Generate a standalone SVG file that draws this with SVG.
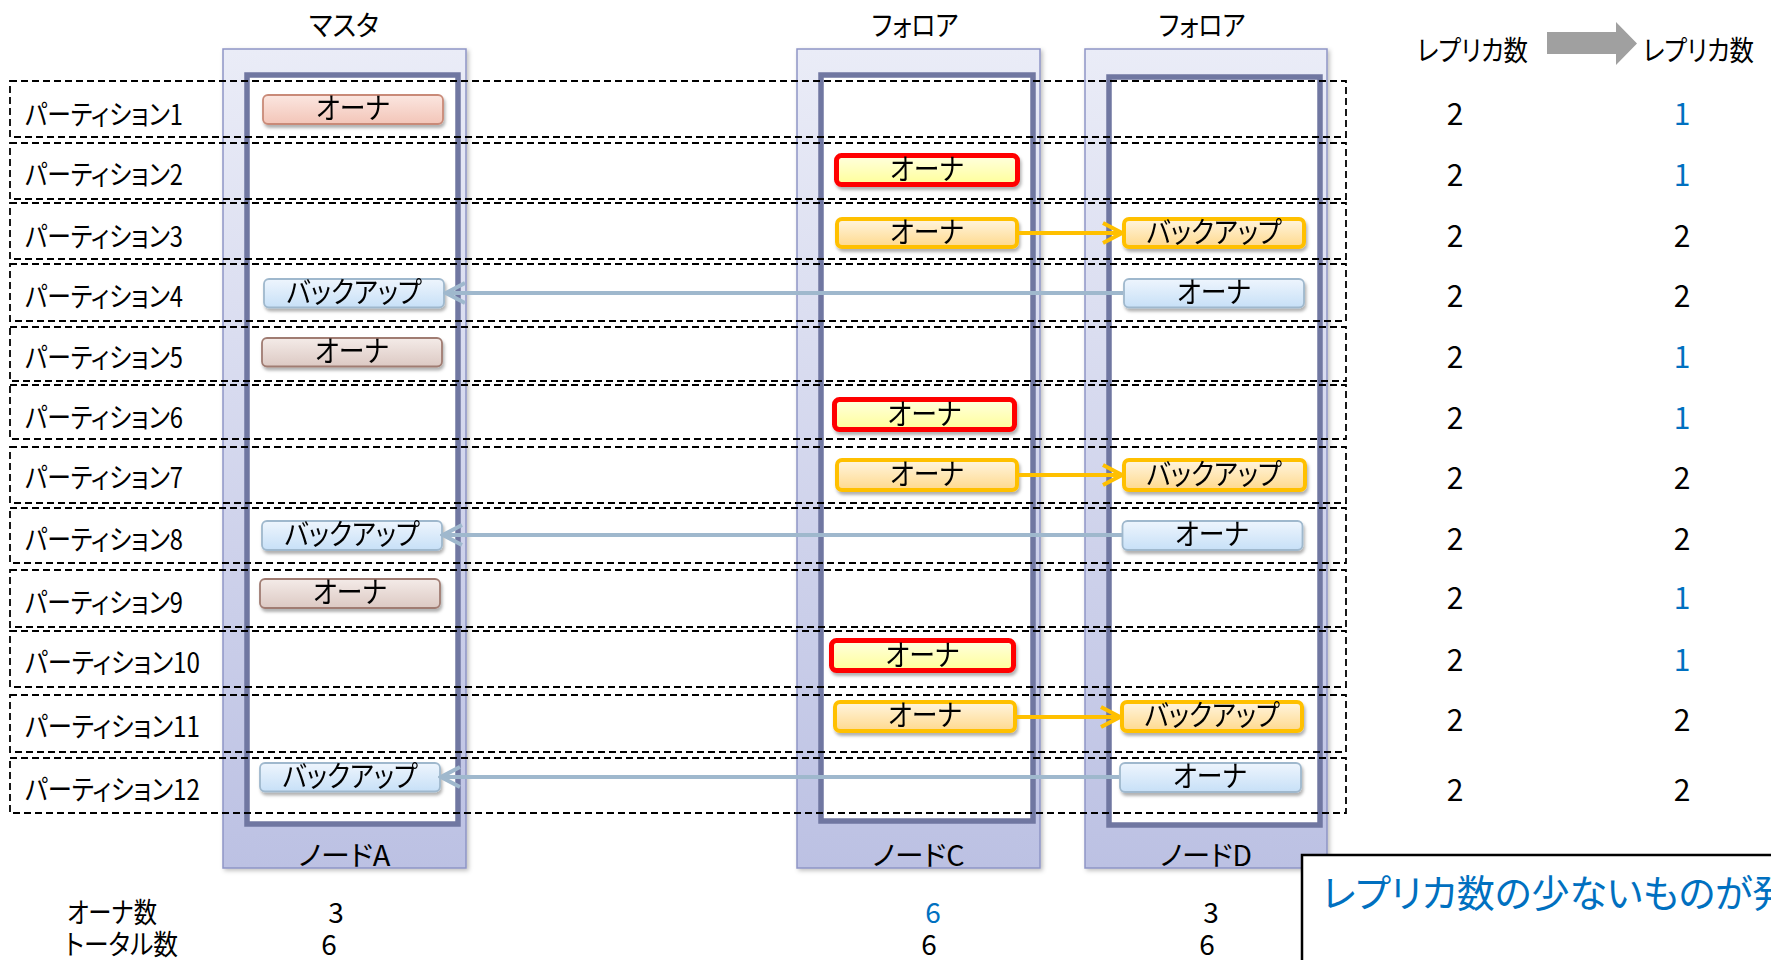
<svg xmlns="http://www.w3.org/2000/svg" width="1771" height="960" viewBox="0 0 1771 960">
<defs>
<linearGradient id="gNode" x1="0" y1="0" x2="0" y2="1"><stop offset="0" stop-color="#eaecf7"/><stop offset="1" stop-color="#bcc1e3"/></linearGradient>
<linearGradient id="gSalmon" x1="0" y1="0" x2="0" y2="1"><stop offset="0" stop-color="#fbe6e0"/><stop offset="1" stop-color="#f3c5b8"/></linearGradient>
<linearGradient id="gBrown" x1="0" y1="0" x2="0" y2="1"><stop offset="0" stop-color="#f4ebe8"/><stop offset="1" stop-color="#dcc9c3"/></linearGradient>
<linearGradient id="gRed" x1="0" y1="0" x2="0" y2="1"><stop offset="0" stop-color="#ffffe0"/><stop offset="1" stop-color="#ffff99"/></linearGradient>
<linearGradient id="gOrange" x1="0" y1="0" x2="0" y2="1"><stop offset="0" stop-color="#fff5e0"/><stop offset="1" stop-color="#ffd98c"/></linearGradient>
<linearGradient id="gBlue" x1="0" y1="0" x2="0" y2="1"><stop offset="0" stop-color="#eef5fd"/><stop offset="1" stop-color="#c7e0f7"/></linearGradient>
<filter id="sh" x="-10%" y="-20%" width="130%" height="160%"><feDropShadow dx="1.5" dy="3" stdDeviation="1.8" flood-color="#000" flood-opacity="0.3"/></filter>
<filter id="shN" x="-5%" y="-5%" width="110%" height="110%"><feDropShadow dx="2" dy="2" stdDeviation="2" flood-color="#000" flood-opacity="0.25"/></filter>
<marker id="arO" markerUnits="userSpaceOnUse" markerWidth="24" markerHeight="24" refX="21" refY="12" orient="auto"><path d="M2,2 L21,12 L2,22" fill="none" stroke="#ffc000" stroke-width="4" stroke-linejoin="miter"/></marker>
<marker id="arB" markerUnits="userSpaceOnUse" markerWidth="24" markerHeight="24" refX="21" refY="12" orient="auto"><path d="M2,2 L21,12 L2,22" fill="none" stroke="#9fb8cd" stroke-width="4"/></marker>
</defs>
<style>
text{font-family:"Noto Sans CJK JP","Noto Sans",sans-serif;font-feature-settings:"palt" 1;fill:#000}
.lbl{font-size:28px}
.hdr{font-size:28px;text-anchor:middle}
.num{font-size:30px;text-anchor:middle}
.blue{fill:#0070c0}
.bt{font-size:29px;text-anchor:middle}
.outer{fill:url(#gNode);stroke:#8e95c6;stroke-width:1.5}
.inner{fill:#fff;stroke:#7077a1;stroke-width:5.5}
.row{fill:none;stroke:#000;stroke-width:1.8;stroke-dasharray:7 4}
.salmon{fill:url(#gSalmon);stroke:#c98a78;stroke-width:1.8}
.brown{fill:url(#gBrown);stroke:#a07c72;stroke-width:1.8}
.red{fill:url(#gRed);stroke:#ff0000;stroke-width:5}
.orange{fill:url(#gOrange);stroke:#ffc000;stroke-width:4}
.blueb{fill:url(#gBlue);stroke:#9fb8cd;stroke-width:1.8}
.cO{stroke:#ffc000;stroke-width:4;fill:none}
.cB{stroke:#9fb8cd;stroke-width:4;fill:none}
</style>

<!-- headers -->
<g id="headers">
<text class="hdr" x="344" y="36" textLength="70" lengthAdjust="spacingAndGlyphs">マスタ</text>
<text class="hdr" x="915" y="36" textLength="87" lengthAdjust="spacingAndGlyphs">フォロア</text>
<text class="hdr" x="1202" y="36" textLength="87" lengthAdjust="spacingAndGlyphs">フォロア</text>
<text class="lbl" x="1417" y="61" textLength="111" lengthAdjust="spacingAndGlyphs">レプリカ数</text>
<text class="lbl" x="1643" y="61" textLength="111" lengthAdjust="spacingAndGlyphs">レプリカ数</text>
<polygon points="1547,32 1616,32 1616,22 1637,43.5 1616,65 1616,54 1547,54" fill="#a0a0a0"/>
</g>

<!-- nodes -->
<g id="nodeA">
<rect class="outer" x="223" y="49" width="243" height="819" filter="url(#shN)"/>
<rect class="inner" x="247" y="75" width="211" height="749"/>
<text class="hdr" x="344.5" y="866" textLength="92" lengthAdjust="spacingAndGlyphs">ノードA</text>
</g>
<g id="nodeC">
<rect class="outer" x="797" y="49" width="243" height="819" filter="url(#shN)"/>
<rect class="inner" x="821" y="75" width="212" height="746"/>
<text class="hdr" x="918.5" y="866" textLength="92" lengthAdjust="spacingAndGlyphs">ノードC</text>
</g>
<g id="nodeD">
<rect class="outer" x="1085" y="49" width="242" height="819" filter="url(#shN)"/>
<rect class="inner" x="1109" y="77" width="211" height="748"/>
<text class="hdr" x="1206" y="866" textLength="92" lengthAdjust="spacingAndGlyphs">ノードD</text>
</g>

<!-- partitions -->
<g id="partitions">
<g id="p1"><rect class="row" x="10" y="81" width="1336" height="56"/><text class="lbl" x="25" y="125" textLength="158" lengthAdjust="spacingAndGlyphs">パーティション1</text></g>
<g id="p2"><rect class="row" x="10" y="143" width="1336" height="56"/><text class="lbl" x="25" y="185" textLength="158" lengthAdjust="spacingAndGlyphs">パーティション2</text></g>
<g id="p3"><rect class="row" x="10" y="203" width="1336" height="56"/><text class="lbl" x="25" y="247" textLength="158" lengthAdjust="spacingAndGlyphs">パーティション3</text></g>
<g id="p4"><rect class="row" x="10" y="264" width="1336" height="57"/><text class="lbl" x="25" y="307" textLength="158" lengthAdjust="spacingAndGlyphs">パーティション4</text></g>
<g id="p5"><rect class="row" x="10" y="327" width="1336" height="54"/><text class="lbl" x="25" y="368" textLength="158" lengthAdjust="spacingAndGlyphs">パーティション5</text></g>
<g id="p6"><rect class="row" x="10" y="385" width="1336" height="54"/><text class="lbl" x="25" y="428" textLength="158" lengthAdjust="spacingAndGlyphs">パーティション6</text></g>
<g id="p7"><rect class="row" x="10" y="447" width="1336" height="56"/><text class="lbl" x="25" y="488" textLength="158" lengthAdjust="spacingAndGlyphs">パーティション7</text></g>
<g id="p8"><rect class="row" x="10" y="508" width="1336" height="55"/><text class="lbl" x="25" y="550" textLength="158" lengthAdjust="spacingAndGlyphs">パーティション8</text></g>
<g id="p9"><rect class="row" x="10" y="570" width="1336" height="57"/><text class="lbl" x="25" y="613" textLength="158" lengthAdjust="spacingAndGlyphs">パーティション9</text></g>
<g id="p10"><rect class="row" x="10" y="631" width="1336" height="56"/><text class="lbl" x="25" y="673" textLength="175" lengthAdjust="spacingAndGlyphs">パーティション10</text></g>
<g id="p11"><rect class="row" x="10" y="695" width="1336" height="57"/><text class="lbl" x="25" y="737" textLength="175" lengthAdjust="spacingAndGlyphs">パーティション11</text></g>
<g id="p12"><rect class="row" x="10" y="758" width="1336" height="55"/><text class="lbl" x="25" y="800" textLength="175" lengthAdjust="spacingAndGlyphs">パーティション12</text></g>
</g>

<!-- replica boxes -->
<g id="boxes">
<g id="b1A" filter="url(#sh)"><rect class="salmon" x="263" y="95" width="180" height="29" rx="5"/><text class="bt" x="353" y="119" textLength="74" lengthAdjust="spacingAndGlyphs">オーナ</text></g>
<g id="b2C" filter="url(#sh)"><rect class="red" x="836.5" y="155.5" width="181" height="29" rx="5"/><text class="bt" x="927" y="180" textLength="74" lengthAdjust="spacingAndGlyphs">オーナ</text></g>
<g id="b3C" filter="url(#sh)"><rect class="orange" x="837" y="219" width="180" height="28" rx="5"/><text class="bt" x="927" y="243" textLength="74" lengthAdjust="spacingAndGlyphs">オーナ</text></g>
<g id="b3D" filter="url(#sh)"><rect class="orange" x="1124" y="219" width="180" height="28" rx="5"/><text class="bt" x="1214" y="243" textLength="135" lengthAdjust="spacingAndGlyphs">バックアップ</text></g>
<g id="b4A" filter="url(#sh)"><rect class="blueb" x="264" y="279" width="180" height="28.5" rx="5"/><text class="bt" x="354" y="303" textLength="135" lengthAdjust="spacingAndGlyphs">バックアップ</text></g>
<g id="b4D" filter="url(#sh)"><rect class="blueb" x="1124" y="279" width="180" height="28.5" rx="5"/><text class="bt" x="1214" y="303" textLength="74" lengthAdjust="spacingAndGlyphs">オーナ</text></g>
<g id="b5A" filter="url(#sh)"><rect class="brown" x="262" y="338" width="180" height="28.5" rx="5"/><text class="bt" x="352" y="362" textLength="74" lengthAdjust="spacingAndGlyphs">オーナ</text></g>
<g id="b6C" filter="url(#sh)"><rect class="red" x="834.5" y="399.5" width="180" height="30" rx="5"/><text class="bt" x="924.5" y="425" textLength="74" lengthAdjust="spacingAndGlyphs">オーナ</text></g>
<g id="b7C" filter="url(#sh)"><rect class="orange" x="837" y="460" width="180" height="30" rx="5"/><text class="bt" x="927" y="485" textLength="74" lengthAdjust="spacingAndGlyphs">オーナ</text></g>
<g id="b7D" filter="url(#sh)"><rect class="orange" x="1124" y="460" width="181" height="30" rx="5"/><text class="bt" x="1214" y="485" textLength="135" lengthAdjust="spacingAndGlyphs">バックアップ</text></g>
<g id="b8A" filter="url(#sh)"><rect class="blueb" x="262" y="521" width="180" height="29" rx="5"/><text class="bt" x="352" y="545" textLength="135" lengthAdjust="spacingAndGlyphs">バックアップ</text></g>
<g id="b8D" filter="url(#sh)"><rect class="blueb" x="1122.5" y="521" width="180" height="29" rx="5"/><text class="bt" x="1212" y="545" textLength="74" lengthAdjust="spacingAndGlyphs">オーナ</text></g>
<g id="b9A" filter="url(#sh)"><rect class="brown" x="260" y="579" width="180" height="29" rx="5"/><text class="bt" x="350" y="603" textLength="74" lengthAdjust="spacingAndGlyphs">オーナ</text></g>
<g id="b10C" filter="url(#sh)"><rect class="red" x="831.5" y="640.5" width="182" height="30" rx="5"/><text class="bt" x="922.5" y="666" textLength="74" lengthAdjust="spacingAndGlyphs">オーナ</text></g>
<g id="b11C" filter="url(#sh)"><rect class="orange" x="835" y="702" width="180" height="29" rx="5"/><text class="bt" x="925" y="726" textLength="74" lengthAdjust="spacingAndGlyphs">オーナ</text></g>
<g id="b11D" filter="url(#sh)"><rect class="orange" x="1122" y="702" width="180" height="29" rx="5"/><text class="bt" x="1212" y="726" textLength="135" lengthAdjust="spacingAndGlyphs">バックアップ</text></g>
<g id="b12A" filter="url(#sh)"><rect class="blueb" x="260" y="763" width="180" height="28.5" rx="5"/><text class="bt" x="350" y="787" textLength="135" lengthAdjust="spacingAndGlyphs">バックアップ</text></g>
<g id="b12D" filter="url(#sh)"><rect class="blueb" x="1120" y="763" width="181" height="29" rx="5"/><text class="bt" x="1210" y="787" textLength="74" lengthAdjust="spacingAndGlyphs">オーナ</text></g>
</g>

<!-- connectors -->
<g id="connectors">
<line class="cO" x1="1019" y1="233" x2="1122" y2="233" marker-end="url(#arO)"/>
<line class="cB" x1="1123" y1="293" x2="446" y2="293" marker-end="url(#arB)"/>
<line class="cO" x1="1019" y1="475" x2="1122" y2="475" marker-end="url(#arO)"/>
<line class="cB" x1="1122" y1="535" x2="443" y2="535" marker-end="url(#arB)"/>
<line class="cO" x1="1017" y1="717" x2="1120" y2="717" marker-end="url(#arO)"/>
<line class="cB" x1="1119" y1="777" x2="441" y2="777" marker-end="url(#arB)"/>
</g>

<!-- replica counts -->
<g id="replicaCounts">
<text class="num" x="1455" y="125">2</text><text class="num blue" x="1682" y="125">1</text>
<text class="num" x="1455" y="186">2</text><text class="num blue" x="1682" y="186">1</text>
<text class="num" x="1455" y="247">2</text><text class="num" x="1682" y="247">2</text>
<text class="num" x="1455" y="307">2</text><text class="num" x="1682" y="307">2</text>
<text class="num" x="1455" y="368">2</text><text class="num blue" x="1682" y="368">1</text>
<text class="num" x="1455" y="429">2</text><text class="num blue" x="1682" y="429">1</text>
<text class="num" x="1455" y="489">2</text><text class="num" x="1682" y="489">2</text>
<text class="num" x="1455" y="550">2</text><text class="num" x="1682" y="550">2</text>
<text class="num" x="1455" y="609">2</text><text class="num blue" x="1682" y="609">1</text>
<text class="num" x="1455" y="671">2</text><text class="num blue" x="1682" y="671">1</text>
<text class="num" x="1455" y="731">2</text><text class="num" x="1682" y="731">2</text>
<text class="num" x="1455" y="801">2</text><text class="num" x="1682" y="801">2</text>
</g>

<!-- totals -->
<g id="totals">
<text class="lbl" x="67" y="923" textLength="90" lengthAdjust="spacingAndGlyphs">オーナ数</text>
<text class="lbl" x="65" y="955" textLength="113" lengthAdjust="spacingAndGlyphs">トータル数</text>
<text class="hdr" x="336" y="923">3</text>
<text class="hdr" x="329" y="955">6</text>
<text class="hdr blue" x="933" y="923">6</text>
<text class="hdr" x="929" y="955">6</text>
<text class="hdr" x="1211" y="923">3</text>
<text class="hdr" x="1207" y="955">6</text>
</g>

<!-- callout -->
<g id="callout">
<rect x="1302" y="855" width="480" height="120" fill="#fff" stroke="#000" stroke-width="2.5"/>
<text x="1322" y="907" style="font-size:38px;fill:#0070c0">レプリカ数の少ないものが発</text>
</g>
</svg>
